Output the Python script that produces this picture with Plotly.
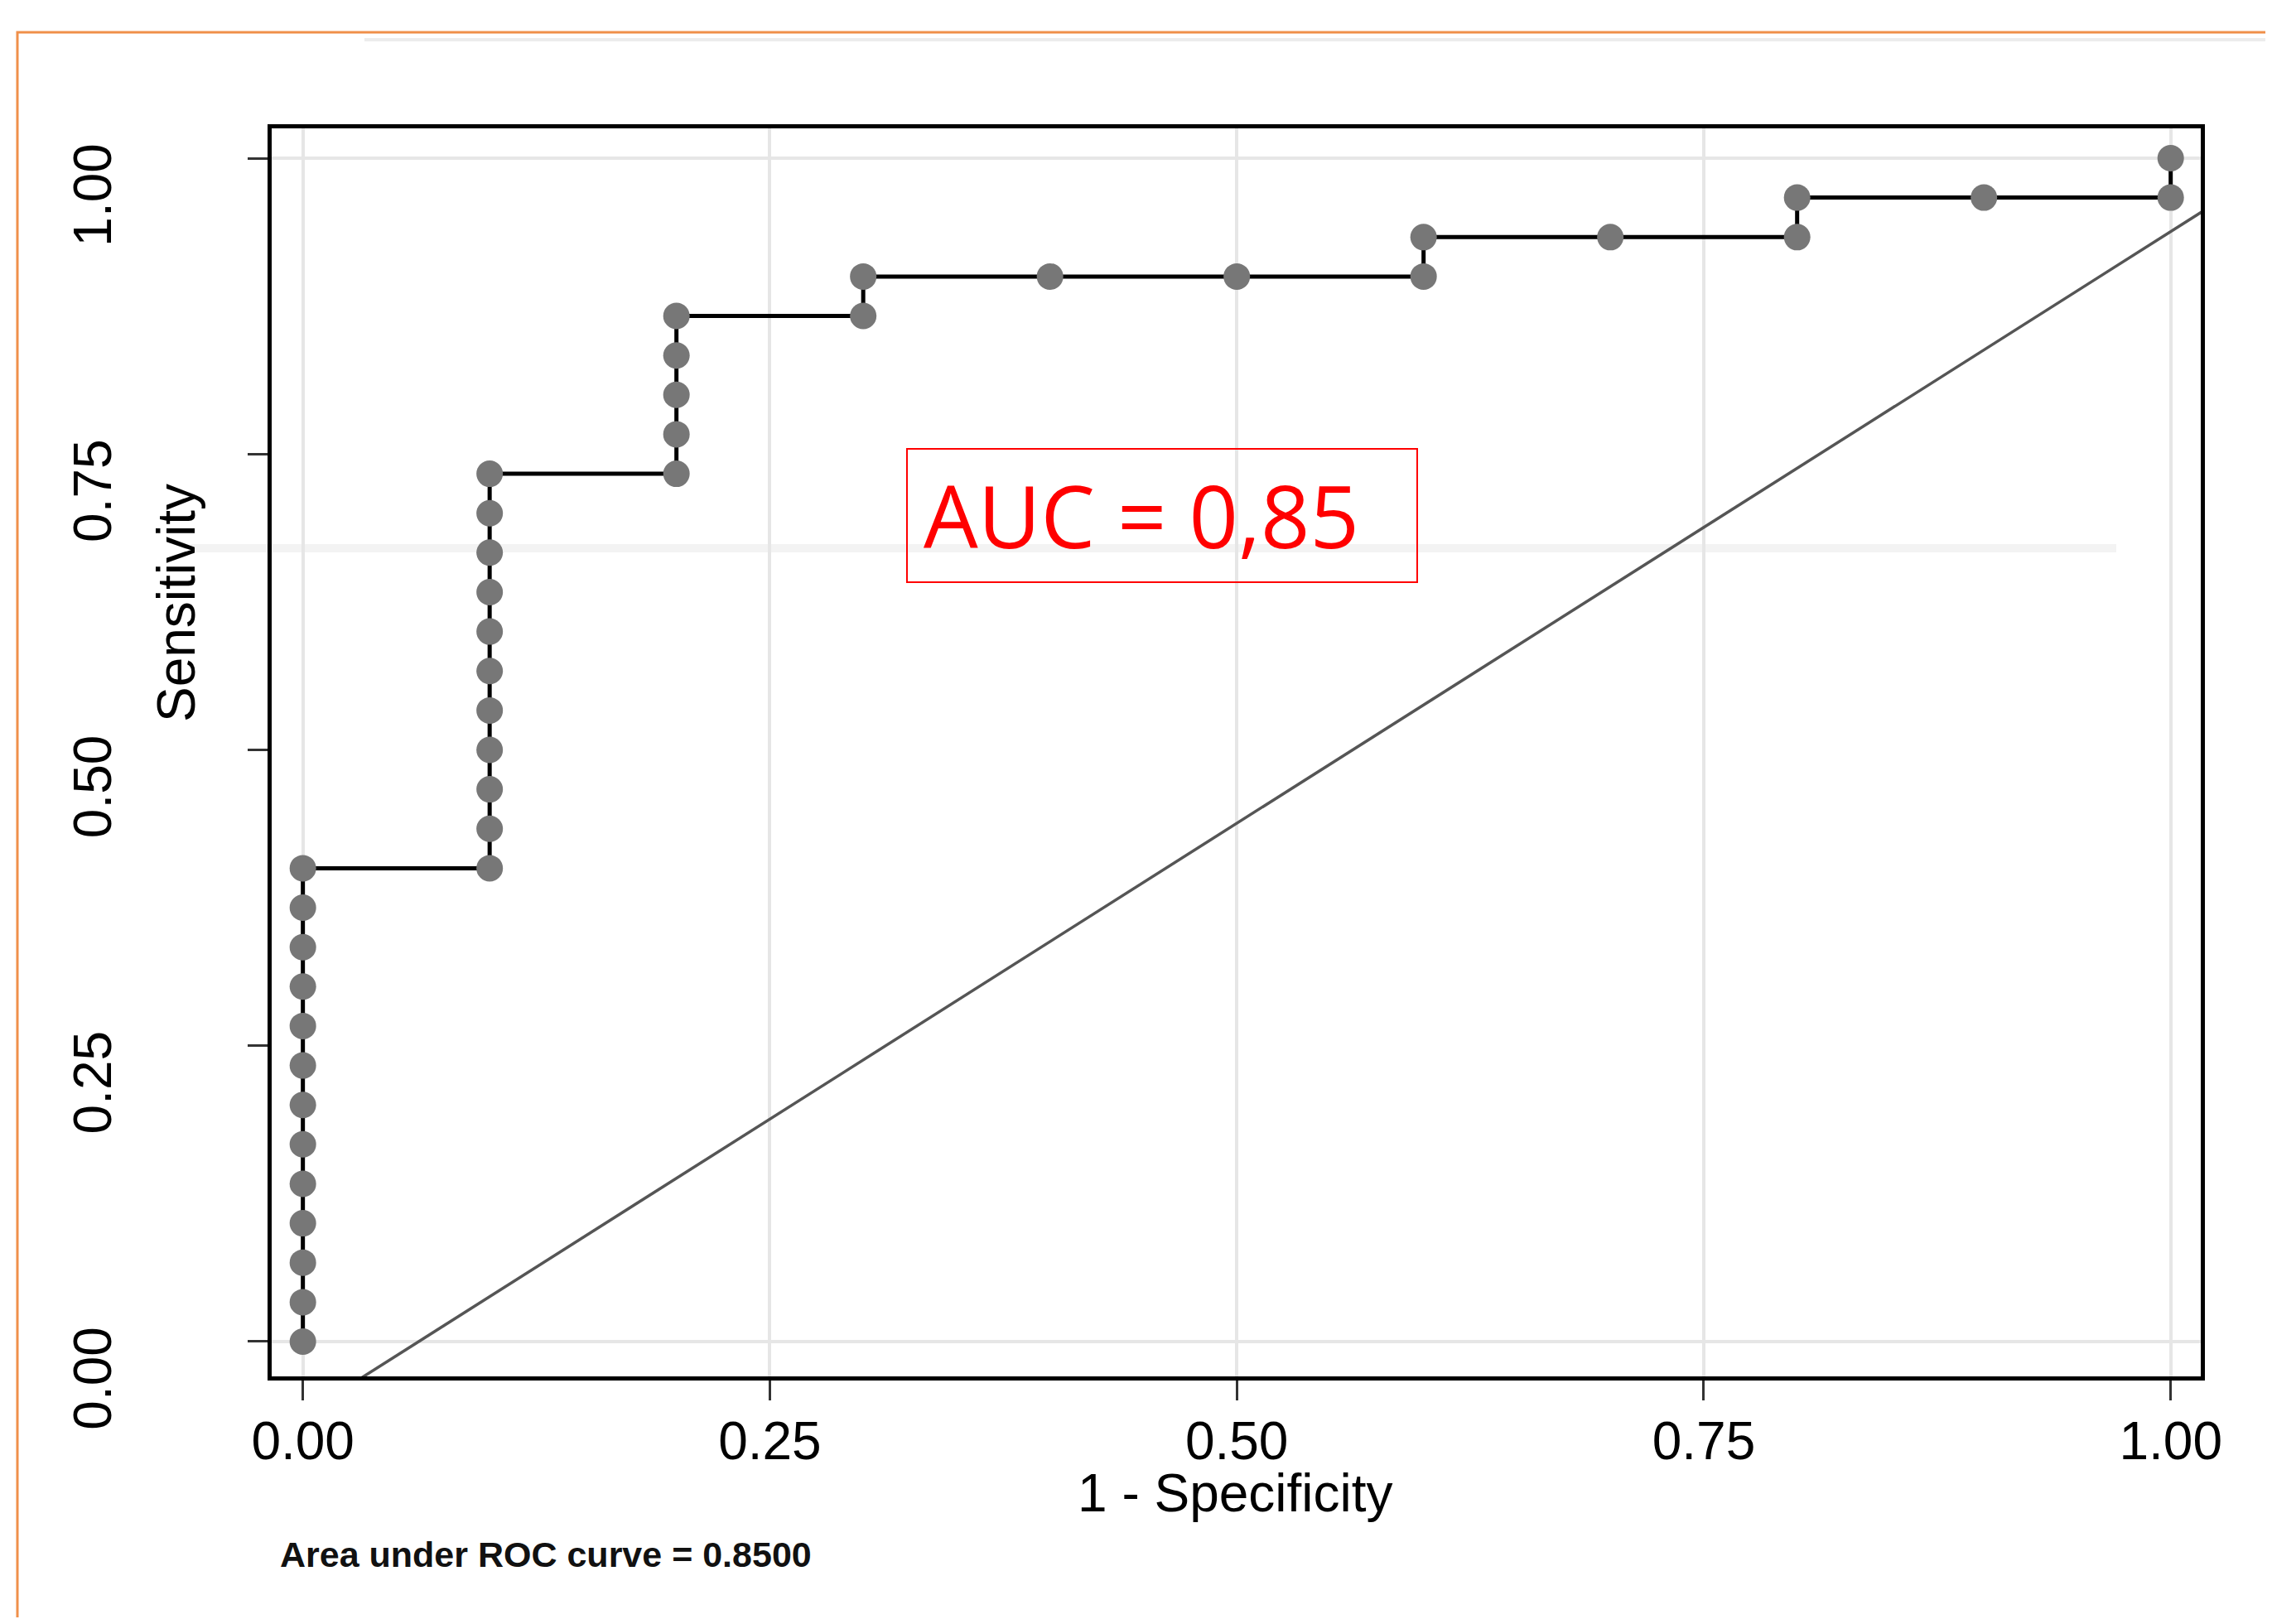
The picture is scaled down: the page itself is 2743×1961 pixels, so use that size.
import plotly.graph_objects as go

# ---- data ----
fpr = [0.0, 0.0, 0.0, 0.0, 0.0, 0.0, 0.0, 0.0, 0.0, 0.0, 0.0, 0.0, 0.0,
       0.1, 0.1, 0.1, 0.1, 0.1, 0.1, 0.1, 0.1, 0.1, 0.1, 0.1,
       0.2, 0.2, 0.2, 0.2, 0.2,
       0.3, 0.3, 0.4, 0.5, 0.6, 0.6, 0.7, 0.8, 0.8, 0.9, 1.0, 1.0]
sensitivity = [0.0, 0.0333, 0.0667, 0.1, 0.1333, 0.1667, 0.2, 0.2333, 0.2667, 0.3, 0.3333, 0.3667, 0.4,
               0.4, 0.4333, 0.4667, 0.5, 0.5333, 0.5667, 0.6, 0.6333, 0.6667, 0.7, 0.7333,
               0.7333, 0.7667, 0.8, 0.8333, 0.8667,
               0.8667, 0.9, 0.9, 0.9, 0.9, 0.9333, 0.9333, 0.9333, 0.9667, 0.9667, 0.9667, 1.0]
ref_x = [0.02, 1.019]
ref_y = [-0.042, 0.957]
tick_vals = [0.0, 0.25, 0.5, 0.75, 1.0]
tick_text = ["0.00", "0.25", "0.50", "0.75", "1.00"]
x_range = [-0.0167, 1.0161]
y_range = [-0.0294, 1.0252]

OFF = 8  # default page body margin
W, H = 2743 - 2 * OFF, 1961 - 2 * OFF
# plot area in page pixels
P_LEFT, P_RIGHT, P_TOP, P_BOTTOM = 328, 2657, 155, 1662
PW, PH = P_RIGHT - P_LEFT, P_BOTTOM - P_TOP
L, T = P_LEFT - OFF, P_TOP - OFF
R, B = W - L - PW, H - T - PH


def px(x):
    return (x - P_LEFT) / PW


def py(y):
    return (P_BOTTOM - y) / PH


FONT = "Liberation Sans, Arial, sans-serif"

fig = go.Figure()
fig.add_trace(go.Scatter(x=ref_x, y=ref_y, mode="lines",
                         line=dict(color="#555555", width=3.5), showlegend=False))
fig.add_trace(go.Scatter(x=fpr, y=sensitivity, mode="lines+markers",
                         line=dict(color="black", width=5),
                         marker=dict(color="#777777", size=32, line=dict(width=0)),
                         showlegend=False))

for yv in (0.0, 1.0):
    fig.add_hline(y=yv, line=dict(color="#e6e6e6", width=4), layer="below")

shapes = [
    # orange outer border (extends beyond the picture)
    dict(type="rect", xref="paper", yref="paper", x0=px(21), x1=px(2743 + 60), y0=py(39), y1=py(1961 + 60),
         line=dict(color="#F0904A", width=3), layer="below"),
    # faint gray artifact lines
    dict(type="line", xref="paper", yref="paper", x0=px(440), x1=px(2743 + 10), y0=py(48), y1=py(48),
         line=dict(color="#ececec", width=4), layer="below"),
    dict(type="line", xref="paper", yref="paper", x0=px(230), x1=px(2555), y0=py(662), y1=py(662),
         line=dict(color="#f3f3f3", width=10), layer="below"),
    # AUC box
    dict(type="rect", xref="paper", yref="paper", x0=px(1095), x1=px(1711), y0=py(703), y1=py(542),
         line=dict(color="#FF0000", width=2), fillcolor="rgba(255,255,255,0)"),
]
for s in shapes:
    fig.add_shape(**s)

fig.add_annotation(text="AUC = 0,85", xref="paper", yref="paper", x=px(1113), y=py(621),
                   xanchor="left", yanchor="middle", showarrow=False,
                   font=dict(family="Open Sans, Noto Sans, sans-serif", size=104, color="#FF0000"))
fig.add_annotation(text="Sensitivity", xref="paper", yref="paper", x=px(213), y=py(728),
                   xanchor="center", yanchor="middle", textangle=-90, showarrow=False,
                   font=dict(family=FONT, size=64, color="black"))
fig.add_annotation(text="1 - Specificity", xref="paper", yref="paper", x=px(1491), y=py(1803),
                   xanchor="center", yanchor="middle", showarrow=False,
                   font=dict(family=FONT, size=64, color="black"))
fig.add_annotation(text="<b>Area under ROC curve = 0.8500</b>", xref="paper", yref="paper",
                   x=px(336), y=py(1877), xanchor="left", yanchor="middle", showarrow=False,
                   font=dict(family=FONT, size=43, color="#111111"))

axis_common = dict(tickvals=tick_vals, ticktext=tick_text, ticks="outside", ticklen=24, tickwidth=3,
                   tickcolor="#333333", showline=True, linewidth=5, linecolor="black", mirror=True,
                   zeroline=False, tickfont=dict(family=FONT, size=64, color="black"))

fig.update_xaxes(range=x_range, showgrid=True, gridcolor="#e6e6e6", gridwidth=4,
                 ticklabelstandoff=-6, **axis_common)
fig.update_yaxes(range=y_range, showgrid=False, tickangle=-90,
                 ticklabelstandoff=139, ticklabelshift=54, **axis_common)

fig.update_layout(width=W, height=H, margin=dict(l=L, r=R, t=T, b=B, pad=0),
                  plot_bgcolor="white", paper_bgcolor="white",
                  font=dict(family=FONT))

fig.write_html("out.html")
